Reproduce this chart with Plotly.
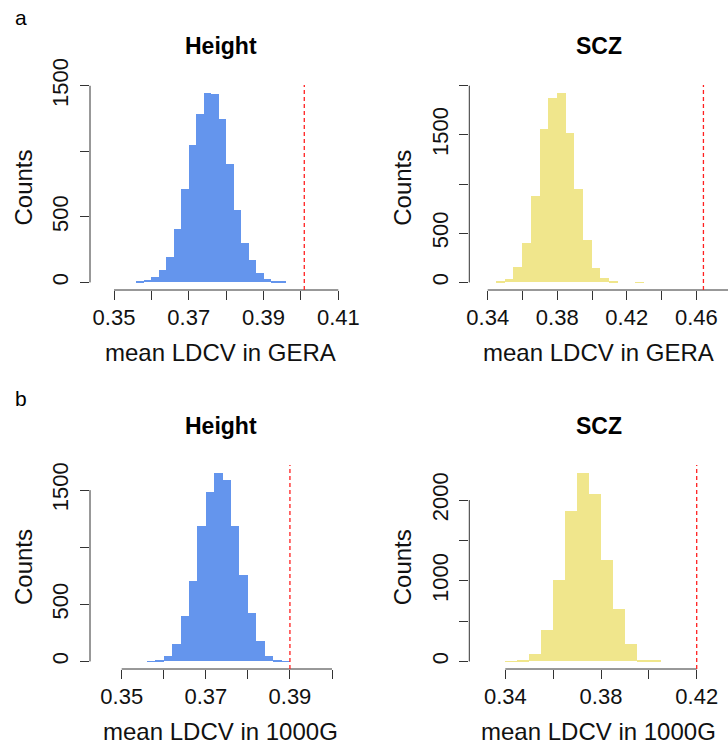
import plotly.graph_objects as go

# ---------------- data ----------------
panel_titles = ["Height", "SCZ", "Height", "SCZ"]
x_titles = ["mean LDCV in GERA", "mean LDCV in GERA", "mean LDCV in 1000G", "mean LDCV in 1000G"]

height_gera_start = 0.356
height_gera_width = 0.002
height_gera_counts = [8, 18, 38, 97, 193, 410, 710, 1051, 1285, 1448, 1440, 1247,
                      906, 555, 300, 168, 74, 25, 13, 5]
height_gera_obs = 0.4009

scz_gera_start = 0.345
scz_gera_width = 0.005
scz_gera_counts = [5, 30, 155, 405, 878, 1564, 1878, 1930, 1520, 953, 432, 145, 44, 10, 0, 0, 2]
scz_gera_obs = 0.4641

height_1kg_start = 0.356
height_1kg_width = 0.002
height_1kg_counts = [3, 17, 44, 157, 399, 708, 1182, 1485, 1654, 1593, 1188, 757, 422,
                     183, 52, 15, 3]
height_1kg_obs = 0.390

scz_1kg_start = 0.340
scz_1kg_width = 0.005
scz_1kg_counts = [3, 8, 95, 387, 1004, 1868, 2341, 2070, 1263, 646, 214, 21, 8]
scz_1kg_obs = 0.420

x_ticks = [
    [0.35, 0.36, 0.37, 0.38, 0.39, 0.40, 0.41],
    [0.34, 0.36, 0.38, 0.40, 0.42, 0.44, 0.46, 0.48],
    [0.35, 0.36, 0.37, 0.38, 0.39, 0.40],
    [0.34, 0.36, 0.38, 0.40, 0.42],
]
x_ticktext = [
    ["0.35", "", "0.37", "", "0.39", "", "0.41"],
    ["0.34", "", "0.38", "", "0.42", "", "0.46", ""],
    ["0.35", "", "0.37", "", "0.39", ""],
    ["0.34", "", "0.38", "", "0.42"],
]
y_ticks = [
    [0, 500, 1000, 1500],
    [0, 500, 1000, 1500, 2000],
    [0, 500, 1000, 1500],
    [0, 500, 1000, 1500, 2000],
]
y_ticktext = [
    ["0", "500", "", "1500"],
    ["0", "500", "", "1500", ""],
    ["0", "500", "", "1500"],
    ["0", "", "1000", "", "2000"],
]

series = [
    (height_gera_start, height_gera_width, height_gera_counts, height_gera_obs),
    (scz_gera_start, scz_gera_width, scz_gera_counts, scz_gera_obs),
    (height_1kg_start, height_1kg_width, height_1kg_counts, height_1kg_obs),
    (scz_1kg_start, scz_1kg_width, scz_1kg_counts, scz_1kg_obs),
]
colors = ["#6495ED", "#F0E68C", "#6495ED", "#F0E68C"]

# ---------------- layout geometry (pixels) ----------------
W, H = 728, 749
FONT = "Liberation Sans, Arial, Helvetica, sans-serif"
# plot-region pixel boxes: (left, right, top, bottom)
boxes = [
    (90, 352, 85, 290),
    (469.3, 728, 85, 290),
    (90, 352, 465, 669),
    (469.3, 728, 465, 669),
]
# two reference ticks (value, pixel) per panel used to set the x scale
x_scale_refs = [
    ((0.35, 114.0), (0.41, 338.3)),
    ((0.34, 487.7), (0.46, 696.3)),
    ((0.35, 121.7), (0.40, 332.0)),
    ((0.34, 505.3), (0.42, 696.7)),
]


def px_x(p):
    return p / W


def px_y(p):
    return 1 - p / H


fig = go.Figure()
shapes = []
annotations = []

for i, (start, width, counts, obs) in enumerate(series):
    n = i + 1
    xa = "x" if n == 1 else f"x{n}"
    ya = "y" if n == 1 else f"y{n}"
    xkey = "xaxis" if n == 1 else f"xaxis{n}"
    ykey = "yaxis" if n == 1 else f"yaxis{n}"
    centers = [start + width * (k + 0.5) for k in range(len(counts))]
    fig.add_trace(go.Bar(
        x=centers, y=counts, width=[width] * len(counts),
        marker=dict(color=colors[i], line=dict(width=0)),
        xaxis=xa, yaxis=ya, showlegend=False, hoverinfo="x+y",
    ))

    L, R, T, B = boxes[i]
    (v0, p0), (v1, p1) = x_scale_refs[i]
    upp = (v1 - v0) / (p1 - p0)
    xr = [v0 + (L - p0) * upp, v0 + (R - p0) * upp]
    M = max(counts)
    yr = [-0.04 * M, 1.04 * M]

    fig.layout[xkey] = dict(
        domain=[px_x(L), px_x(R)], range=xr, anchor=ya,
        showgrid=False, zeroline=False, showline=False, automargin=False,
        tickmode="array", tickvals=x_ticks[i], ticktext=x_ticktext[i],
        ticks="outside", ticklen=9, tickwidth=1, tickcolor="#333",
        tickfont=dict(family=FONT, size=22, color="#111"),
        ticklabelstandoff=-1,
    )
    fig.layout[ykey] = dict(
        domain=[px_y(B), px_y(T)], range=yr, anchor=xa,
        showgrid=False, zeroline=False, showline=False, automargin=False,
        tickmode="array", tickvals=y_ticks[i], ticktext=y_ticktext[i],
        ticks="outside", ticklen=9, tickwidth=1, tickcolor="#333",
        tickangle=-90,
        tickfont=dict(family=FONT, size=22, color="#111"),
        ticklabelstandoff=3,
    )

    # R-style axis lines spanning only the tick range
    shapes.append(dict(type="line", xref=xa, yref=f"{ya} domain",
                       x0=x_ticks[i][0], x1=x_ticks[i][-1], y0=0, y1=0,
                       line=dict(color="#333", width=1)))
    shapes.append(dict(type="line", xref=f"{xa} domain", yref=ya,
                       x0=0, x1=0, y0=y_ticks[i][0], y1=y_ticks[i][-1],
                       line=dict(color="#333", width=1)))
    # observed value: red dashed line
    shapes.append(dict(type="line", xref=xa, yref=f"{ya} domain",
                       x0=obs, x1=obs, y0=0, y1=1,
                       line=dict(color="#ff2020", width=1.3, dash="4px,3px")))

    # title, x label, y label
    cx = (L + R) / 2
    annotations.append(dict(text=f"<b>{panel_titles[i]}</b>", xref="paper", yref="paper",
                            x=px_x(cx), y=px_y(T - 39), xanchor="center", yanchor="middle",
                            showarrow=False, font=dict(family=FONT, size=23, color="#000")))
    annotations.append(dict(text=x_titles[i], xref="paper", yref="paper",
                            x=px_x(cx), y=px_y(B + 62), xanchor="center", yanchor="middle",
                            showarrow=False, font=dict(family=FONT, size=24, color="#111")))
    annotations.append(dict(text="Counts", xref="paper", yref="paper",
                            x=px_x(L - 67), y=px_y((T + B) / 2), xanchor="center", yanchor="middle",
                            textangle=-90, showarrow=False,
                            font=dict(family=FONT, size=24, color="#111")))

annotations.append(dict(text="a", xref="paper", yref="paper", x=px_x(21), y=px_y(18),
                        xanchor="center", yanchor="middle", showarrow=False,
                        font=dict(family=FONT, size=21, color="#000")))
annotations.append(dict(text="b", xref="paper", yref="paper", x=px_x(21), y=px_y(398),
                        xanchor="center", yanchor="middle", showarrow=False,
                        font=dict(family=FONT, size=21, color="#000")))

fig.update_layout(
    width=W, height=H, margin=dict(l=0, r=0, t=0, b=0, pad=0, autoexpand=False),
    paper_bgcolor="white", plot_bgcolor="white",
    bargap=0, shapes=shapes, annotations=annotations,
    font=dict(family=FONT), showlegend=False,
)

fig.write_html("out.html")
